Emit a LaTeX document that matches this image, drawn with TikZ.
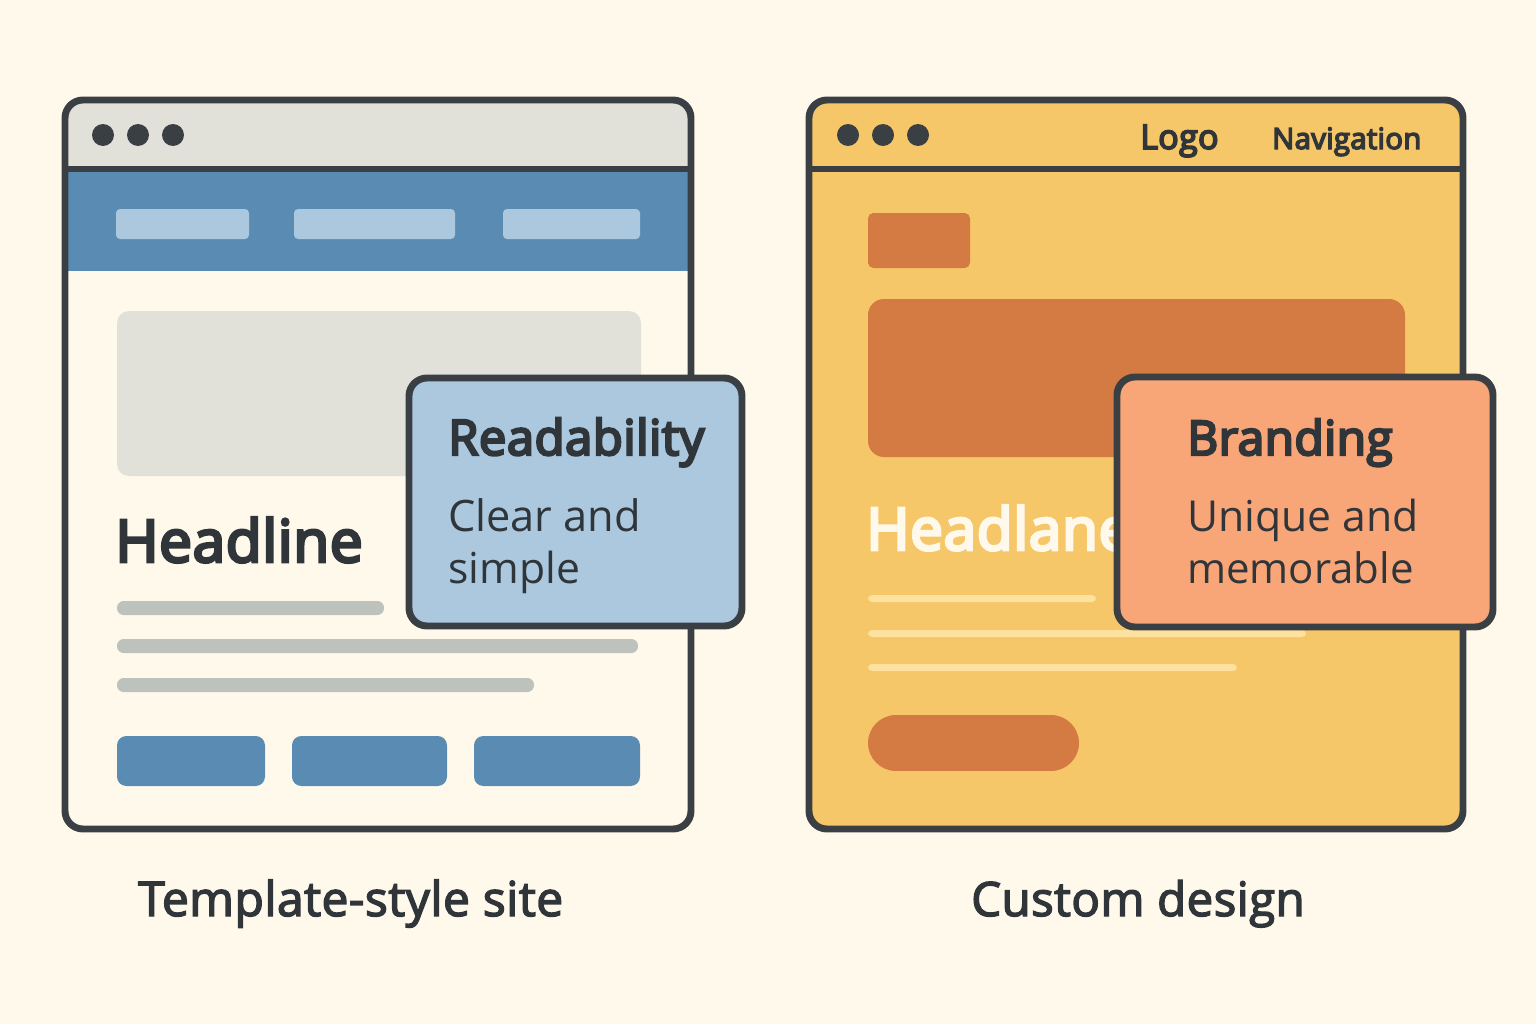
\documentclass[tikz,border=0pt]{standalone}
\usepackage{fontspec}
\setmainfont{Open Sans}[Ligatures=NoCommon]
\newfontfamily\semif[FakeBold=5,Ligatures=NoCommon,LetterSpace=1]{Open Sans}
\newfontfamily\medf[FakeBold=3,Ligatures=NoCommon,LetterSpace=1]{Open Sans}
\definecolor{bg}{HTML}{FFF9EC}
\definecolor{ink}{HTML}{3A3F44}
\definecolor{txt}{HTML}{30353A}
\definecolor{chrome}{HTML}{E1E1DA}
\definecolor{bluea}{HTML}{5A8BB3}
\definecolor{blueb}{HTML}{ABC8DF}
\definecolor{barg}{HTML}{BDC2BD}
\definecolor{gold}{HTML}{F6C768}
\definecolor{rust}{HTML}{D47A43}
\definecolor{peach}{HTML}{F8A678}
\definecolor{pale}{HTML}{FCE29E}
\tikzset{x=0.75pt,y=-0.75pt,
 win/.style={draw=ink,line width=5.2pt,rounded corners=13.5pt},
 sep/.style={draw=ink,line width=4.5pt},
 dot/.style={circle,fill=ink,inner sep=0pt,minimum size=16.5pt},
 callout/.style={draw=ink,line width=5.2pt,rounded corners=13.5pt},
 lab/.style={inner sep=0pt,anchor=base west,text=txt},
}
\begin{document}
\begin{tikzpicture}
\useasboundingbox (0,0) rectangle (1536,1024);
\fill[bg] (0,0) rectangle (1536,1024);
% left window
\fill[bg,rounded corners=13.5pt] (65,100) rectangle (691,829);
\begin{scope}
\clip[rounded corners=13.5pt] (65,100) rectangle (691,829);
\fill[chrome] (65,100) rectangle (691,169);
\fill[bluea] (65,169) rectangle (691,271);
\end{scope}
\draw[sep] (65,169) -- (691,169);
\path[win] (65,100) rectangle (691,829);
\node[dot] (l1) at (103,135) {};
\node[dot] (l2) at (138,135) {};
\node[dot] (l3) at (173,135) {};
\fill[blueb,rounded corners=3pt] (116,209) rectangle (249,239);
\fill[blueb,rounded corners=3pt] (294,209) rectangle (455,239);
\fill[blueb,rounded corners=3pt] (503,209) rectangle (640,239);
\fill[chrome,rounded corners=9pt] (117,311) rectangle (641,476);
\node[lab,font=\fontsize{44}{46}\selectfont\semif] (lh) at (115,562) {Headline};
\fill[barg,rounded corners=5pt] (117,601) rectangle (384,615);
\fill[barg,rounded corners=5pt] (117,639) rectangle (638,653);
\fill[barg,rounded corners=5pt] (117,678) rectangle (534,692);
\fill[bluea,rounded corners=7pt] (117,736) rectangle (265,786);
\fill[bluea,rounded corners=7pt] (292,736) rectangle (447,786);
\fill[bluea,rounded corners=7pt] (474,736) rectangle (640,786);
% left callout
\draw[callout,fill=blueb] (409,378) rectangle (742,626);
\node[lab,font=\fontsize{36.7}{36}\selectfont\semif] (lc1) at (448,455) {Readability};
\node[lab,font=\fontsize{32.5}{33}\selectfont] (lc2) at (448,531) {Clear and};
\node[lab,font=\fontsize{32}{33}\selectfont] (lc3) at (448,583) {simple};
\node[lab,font=\fontsize{36}{33}\selectfont\medf] (cap1) at (138,916) {Template-style site};
% right window
\fill[gold,rounded corners=13.5pt] (809,100) rectangle (1463,829);
\draw[sep] (809,169) -- (1463,169);
\path[win] (809,100) rectangle (1463,829);
\node[dot] (r1) at (848,135) {};
\node[dot] (r2) at (883,135) {};
\node[dot] (r3) at (918,135) {};
\node[lab,font=\fontsize{25.5}{25}\selectfont\semif] (logo) at (1140,149) {Logo};
\node[lab,font=\fontsize{22}{21}\selectfont\semif] (nav) at (1272,149) {Navigation};
\fill[rust,rounded corners=4pt] (868,213) rectangle (970,268);
\fill[rust,rounded corners=12pt] (868,299) rectangle (1405,457);
\node[lab,font=\fontsize{44}{46}\selectfont\semif,text=bg] (rh) at (866,550) {Headlane};
\fill[pale,rounded corners=3pt] (868,595) rectangle (1096,602);
\fill[pale,rounded corners=3pt] (868,630) rectangle (1306,637);
\fill[pale,rounded corners=3pt] (868,664) rectangle (1237,671);
\draw[rust,line width=42pt,line cap=round] (896,743) -- (1051,743);
% right callout
\draw[callout,fill=peach] (1117,377) rectangle (1493,627);
\node[lab,font=\fontsize{35.8}{36}\selectfont\semif] (rc1) at (1187,455) {Branding};
\node[lab,font=\fontsize{32}{33}\selectfont] (rc2) at (1187,531) {Unique and};
\node[lab,font=\fontsize{31.5}{33}\selectfont] (rc3) at (1187,583) {memorable};
\node[lab,font=\fontsize{35.5}{33}\selectfont\medf] (cap2) at (971,916) {Custom design};
\end{tikzpicture}
\end{document}
